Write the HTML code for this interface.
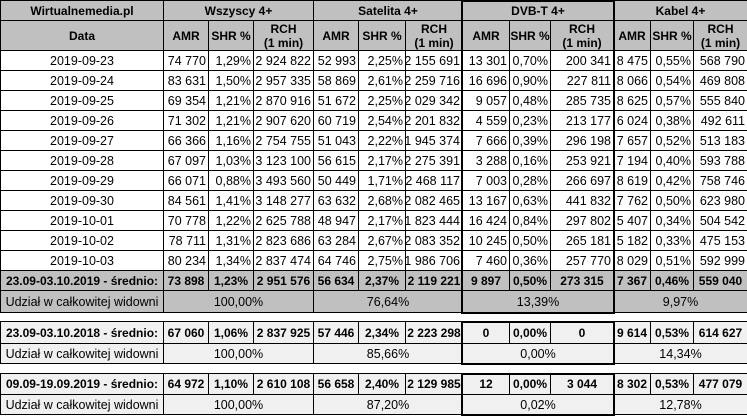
<!DOCTYPE html>
<html><head><meta charset="utf-8"><style>
body{margin:0;width:747px;height:416px;background:#fff;overflow:hidden;font-family:"Liberation Sans",Arial,sans-serif;font-size:12.5px;color:#000}
#t{position:relative;width:747px;height:416px}
.c{position:absolute;box-sizing:border-box;border:1px solid #000;display:flex;align-items:center;justify-content:center;white-space:nowrap;line-height:14px;text-align:center}
.r{justify-content:flex-end;padding-right:2px}
.b{font-weight:bold;font-size:12px}
.h{font-size:12px}
.box{position:absolute;box-sizing:border-box;border:2px solid #000;pointer-events:none}
</style></head><body><div id="t"></div>
<script>
const dates=["2019-09-23","2019-09-24","2019-09-25","2019-09-26","2019-09-27","2019-09-28","2019-09-29","2019-09-30","2019-10-01","2019-10-02","2019-10-03"];
const wszyscy=[["74 770","1,29%","2 924 822"],["83 631","1,50%","2 957 335"],["69 354","1,21%","2 870 916"],["71 302","1,21%","2 907 620"],["66 366","1,16%","2 754 755"],["67 097","1,03%","3 123 100"],["66 071","0,88%","3 493 560"],["84 561","1,41%","3 148 277"],["70 778","1,22%","2 625 788"],["78 711","1,31%","2 823 686"],["80 234","1,34%","2 837 474"]];
const satelita=[["52 993","2,25%","2 155 691"],["58 869","2,61%","2 259 716"],["51 672","2,25%","2 029 342"],["60 719","2,54%","2 201 832"],["51 043","2,22%","1 945 374"],["56 615","2,17%","2 275 391"],["50 449","1,71%","2 468 117"],["63 632","2,68%","2 082 465"],["48 947","2,17%","1 823 444"],["63 284","2,67%","2 083 352"],["64 746","2,75%","1 986 706"]];
const dvbt=[["13 301","0,70%","200 341"],["16 696","0,90%","227 811"],["9 057","0,48%","285 735"],["4 559","0,23%","213 177"],["7 666","0,39%","296 198"],["3 288","0,16%","253 921"],["7 003","0,28%","266 697"],["13 167","0,63%","441 832"],["16 424","0,84%","297 802"],["10 245","0,50%","265 181"],["7 460","0,36%","257 770"]];
const kabel=[["8 475","0,55%","568 790"],["8 066","0,54%","469 808"],["8 625","0,57%","555 840"],["6 024","0,38%","492 611"],["7 657","0,52%","513 183"],["7 194","0,40%","593 788"],["8 619","0,42%","758 746"],["7 762","0,50%","623 980"],["5 407","0,34%","504 542"],["5 182","0,33%","475 153"],["8 029","0,51%","592 999"]];
const summaryLabels=["23.09-03.10.2019 - średnio:","23.09-03.10.2018 - średnio:","09.09-19.09.2019 - średnio:"];
const summaryVals=[["73 898","1,23%","2 951 576","56 634","2,37%","2 119 221","9 897","0,50%","273 315","7 367","0,46%","559 040"],["67 060","1,06%","2 837 925","57 446","2,34%","2 223 298","0","0,00%","0","9 614","0,53%","614 627"],["64 972","1,10%","2 610 108","56 658","2,40%","2 129 985","12","0,00%","3 044","8 302","0,53%","477 079"]];
const shares=[["100,00%","76,64%","13,39%","9,97%"],["100,00%","85,66%","0,00%","14,34%"],["100,00%","87,20%","0,02%","12,78%"]];
const X=[0,163,208,253,313,358,405,462,509,550,613,650,693,747];
const t=document.getElementById('t');
function cell(x1,x2,y1,y2,txt,cls,bg,name){
  const d=document.createElement('div');
  d.className='c '+(cls||'');
  d.style.left=X[x1]+'px';d.style.width=(X[x2]-X[x1]+1)+'px';
  d.style.top=y1+'px';d.style.height=(y2-y1+1)+'px';
  d.style.background=bg;d.innerHTML=txt;
  
  
  t.appendChild(d);
}
const G='#c0c0c0',L='#f0f0f0';
cell(0,1,0,20,'Wirtualnemedia.pl','b',G,'source-header');
const groups=['Wszyscy 4+','Satelita 4+','DVB-T 4+','Kabel 4+'];
groups.forEach((g,i)=>cell(1+i*3,4+i*3,0,20,g,'b',G,'group-header'));
cell(0,1,20,50,'Data','b',G,'date-header');
for(let i=0;i<4;i++){
  cell(1+i*3,2+i*3,20,50,'AMR','b',G,'amr-header');
  cell(2+i*3,3+i*3,20,50,'SHR %','b h',G,'shr-header');
  cell(3+i*3,4+i*3,20,50,'RCH<br>(1 min)','b h',G,'rch-header');
}
dates.forEach((d,r)=>{
  const y=50+r*20;
  cell(0,1,y,y+20,d,'','#fff','date-cell');
  [wszyscy,satelita,dvbt,kabel].forEach((arr,g)=>{
    arr[r].forEach((v,k)=>cell(1+g*3+k,2+g*3+k,y,y+20,v,'r','#fff','value-cell'));
  });
});
const SY=[[270,290,312],[321,343,363],[373,394,414]];
SY.forEach((s,i)=>{
  const bg=i==0?G:L;
  cell(0,1,s[0],s[1],summaryLabels[i],'b',bg,'summary-label');
  summaryVals[i].forEach((v,k)=>cell(1+k,2+k,s[0],s[1],v,'b',bg,'summary-value'));
  cell(0,1,s[1],s[2],'Udział w całkowitej widowni','',bg,'share-label');
  shares[i].forEach((v,g)=>cell(1+g*3,4+g*3,s[1],s[2],v,'',bg,'share-value'));
});
[[20,312],[321,363],[373,414]].forEach((b,i)=>{
  const d=document.createElement('div');d.className='box';
  d.style.left=(X[7]-1)+'px';d.style.width=(X[10]-X[7]+3)+'px';
  d.style.top=(i==0?0:b[0])+'px';d.style.height=((i==0?312:b[1])-(i==0?0:b[0])+2)+'px';
  
  
  t.appendChild(d);
});
</script></body></html>
